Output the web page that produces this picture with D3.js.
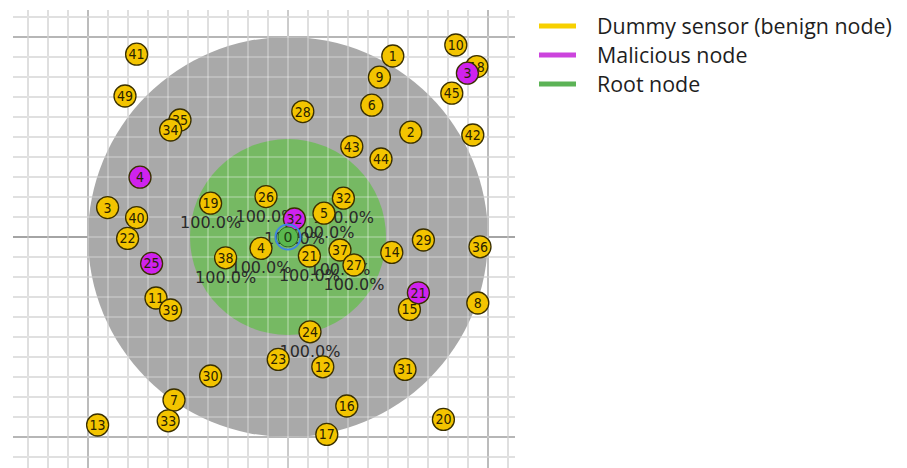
<!DOCTYPE html>
<html><head><meta charset="utf-8">
<script src="https://cdn.jsdelivr.net/npm/d3@7"></script>
<style>html,body{margin:0;padding:0;background:#fff;}svg{display:block;}</style>
</head><body>
<svg id="c" width="907" height="468"></svg>
<script>
// ---- data (positions in metres, relative to the root node) ----
const benignIds = [41,49,35,34,10,1,18,9,45,6,28,2,42,43,44,3,40,22,11,39,19,38,26,32,5,4,21,37,27,14,29,36,8,15,30,7,33,13,24,23,12,31,16,20,17];
const benignX   = [-75.7,-81.5,-54,-58.7,83.9,52.4,94.4,45.7,81.9,41.9,7.4,61.4,92.4,31.9,46.5,-90.2,-75.7,-80.2,-66,-58.7,-38.7,-31.2,-11,27.7,18,-13.5,10.7,26,33,51.9,67.7,96,94.9,60.7,-38.7,-57,-59.9,-95.2,11,-4.9,17.4,58.5,29.4,77.7,19.4];
const benignY   = [-91.4,-70.5,-58.5,-53.5,-96,-90.5,-85.2,-79.9,-71.9,-65.9,-62.7,-52.4,-51,-45.2,-39,-14.7,-9.7,0.7,30.5,36.5,-16.9,10.4,-20.2,-19.4,-11.9,5.7,9.5,6.5,14,7.7,1.5,4.9,33,36.2,69.5,81.5,91.9,94,47.4,61.2,64.9,66.2,84.5,91.2,98.7];
const maliciousIds = [3,4,25,21,32];
const maliciousX   = [89.7,-74,-68.2,65.2,3.2];
const maliciousY   = [-81.9,-29.9,13.2,27.9,-9];
const rootId = 0, rootX = 0, rootY = 0;
const txRange = 50, interferenceRange = 100;   // metres
const successRatio = 100.0;                     // percent, for motes in TX range
const gridStep = 10, majorStep = 100;
const legendLabels = ["Dummy sensor (benign node)", "Malicious node", "Root node"];

const C = {benign:"#f3c400", malicious:"#cf22ee", root:"#5ab84e", gray:"#a9a9a9", green:"#76b963"};
const legendColors = ["#f7d000", "#cc44dd", "#5cb356"];

const svg = d3.select("#c");
const x = d3.scaleLinear().domain([-137.5, 113.5]).range([13, 515]);
const y = d3.scaleLinear().domain([-113.5, 115.5]).range([10, 468]);
const k = x(1) - x(0);

const xt = d3.range(-130, 111, gridStep), yt = d3.range(-110, 111, gridStep);
function grid(g, color, w) {
  g.selectAll(".v").data(xt).join("line")
    .attr("x1", d=>x(d)).attr("x2", d=>x(d)).attr("y1", 10).attr("y2", 468)
    .attr("stroke", color).attr("stroke-width", w);
  g.selectAll(".h").data(yt).join("line")
    .attr("x1", 13).attr("x2", 515).attr("y1", d=>y(d)).attr("y2", d=>y(d))
    .attr("stroke", color).attr("stroke-width", w);
}
const g0 = svg.append("g");
grid(g0.append("g"), "#cacaca", 1.6);
// major lines
const gm = g0.append("g");
gm.selectAll("line.v").data(xt.filter(d=>d!==0 && d%majorStep===0)).join("line")
  .attr("x1", d=>x(d)).attr("x2", d=>x(d)).attr("y1",10).attr("y2",468).attr("stroke","#a0a0a0").attr("stroke-width",1.8);
gm.selectAll("line.h").data(yt.filter(d=>d!==0 && d%majorStep===0)).join("line")
  .attr("x1",13).attr("x2",515).attr("y1",d=>y(d)).attr("y2",d=>y(d)).attr("stroke","#a0a0a0").attr("stroke-width",1.8);
gm.append("line").attr("x1",13).attr("x2",515).attr("y1",y(0)).attr("y2",y(0)).attr("stroke","#6e6e6e").attr("stroke-width",1.6);
gm.append("line").attr("x1",x(0)).attr("x2",x(0)).attr("y1",10).attr("y2",468).attr("stroke","#b4b4b4").attr("stroke-width",1.6);

// ranges
svg.append("circle").attr("cx", x(rootX)).attr("cy", y(rootY)).attr("r", interferenceRange*k).attr("fill", C.gray);
svg.append("circle").attr("cx", x(rootX)).attr("cy", y(rootY)).attr("r", txRange*k*0.98).attr("fill", C.green);
// grid showing through the ranges
grid(svg.append("g"), "rgba(255,255,255,0.32)", 1.6);

// motes
const motes = benignIds.map((id,i)=>({id, x:benignX[i], y:benignY[i], type:"benign"}))
  .concat(maliciousIds.map((id,i)=>({id, x:maliciousX[i], y:maliciousY[i], type:"malicious"})));
const root = {id:rootId, x:rootX, y:rootY, type:"root"};

// success ratio labels (drawn before motes, like Cooja)
const inRange = motes.filter(m => Math.hypot(m.x-rootX, m.y-rootY) <= txRange);
svg.append("g").selectAll("text").data(inRange).join("text")
  .attr("x", d=>x(d.x)).attr("y", d=>y(d.y)+25).attr("text-anchor","middle")
  .attr("font-family","DejaVu Sans, sans-serif").attr("font-size",16).attr("fill","#2a2a2a")
  .text(successRatio.toFixed(1) + "%");

const R = 11;
const mg = svg.append("g").selectAll("g").data(motes).join("g")
  .attr("transform", d=>`translate(${x(d.x)},${y(d.y)})`);
mg.append("circle").attr("r", R).attr("fill", d=>C[d.type]).attr("stroke","#3a3000").attr("stroke-width",1.3);
mg.append("text").attr("text-anchor","middle").attr("dy","0.36em")
  .attr("font-family","DejaVu Sans Condensed, DejaVu Sans, sans-serif").attr("font-size",14)
  .attr("fill","#2a2200").text(d=>d.id);

const rg = svg.append("g").attr("transform", `translate(${x(root.x)},${y(root.y)})`);
rg.append("circle").attr("r", R+1.5).attr("fill","none").attr("stroke","#3f86e0").attr("stroke-width",2);
rg.append("circle").attr("r", R-1).attr("fill", C.root).attr("stroke","#2f6a2a").attr("stroke-width",1);
rg.append("text").attr("text-anchor","middle").attr("dy","0.36em")
  .attr("font-family","DejaVu Sans, sans-serif").attr("font-size",14).attr("fill","#1d3d12").text(root.id);

// legend
const lg = svg.append("g").selectAll("g").data(legendLabels).join("g")
  .attr("transform", (d,i)=>`translate(539,${26 + i*29})`);
lg.append("line").attr("x1",0).attr("x2",37).attr("stroke",(d,i)=>legendColors[i]).attr("stroke-width",5);
lg.append("text").attr("x",58).attr("y",7.5).attr("font-family","Open Sans, sans-serif").attr("font-size",21.4)
  .attr("fill","#1e1e1e").text(d=>d);
</script>
</body></html>
